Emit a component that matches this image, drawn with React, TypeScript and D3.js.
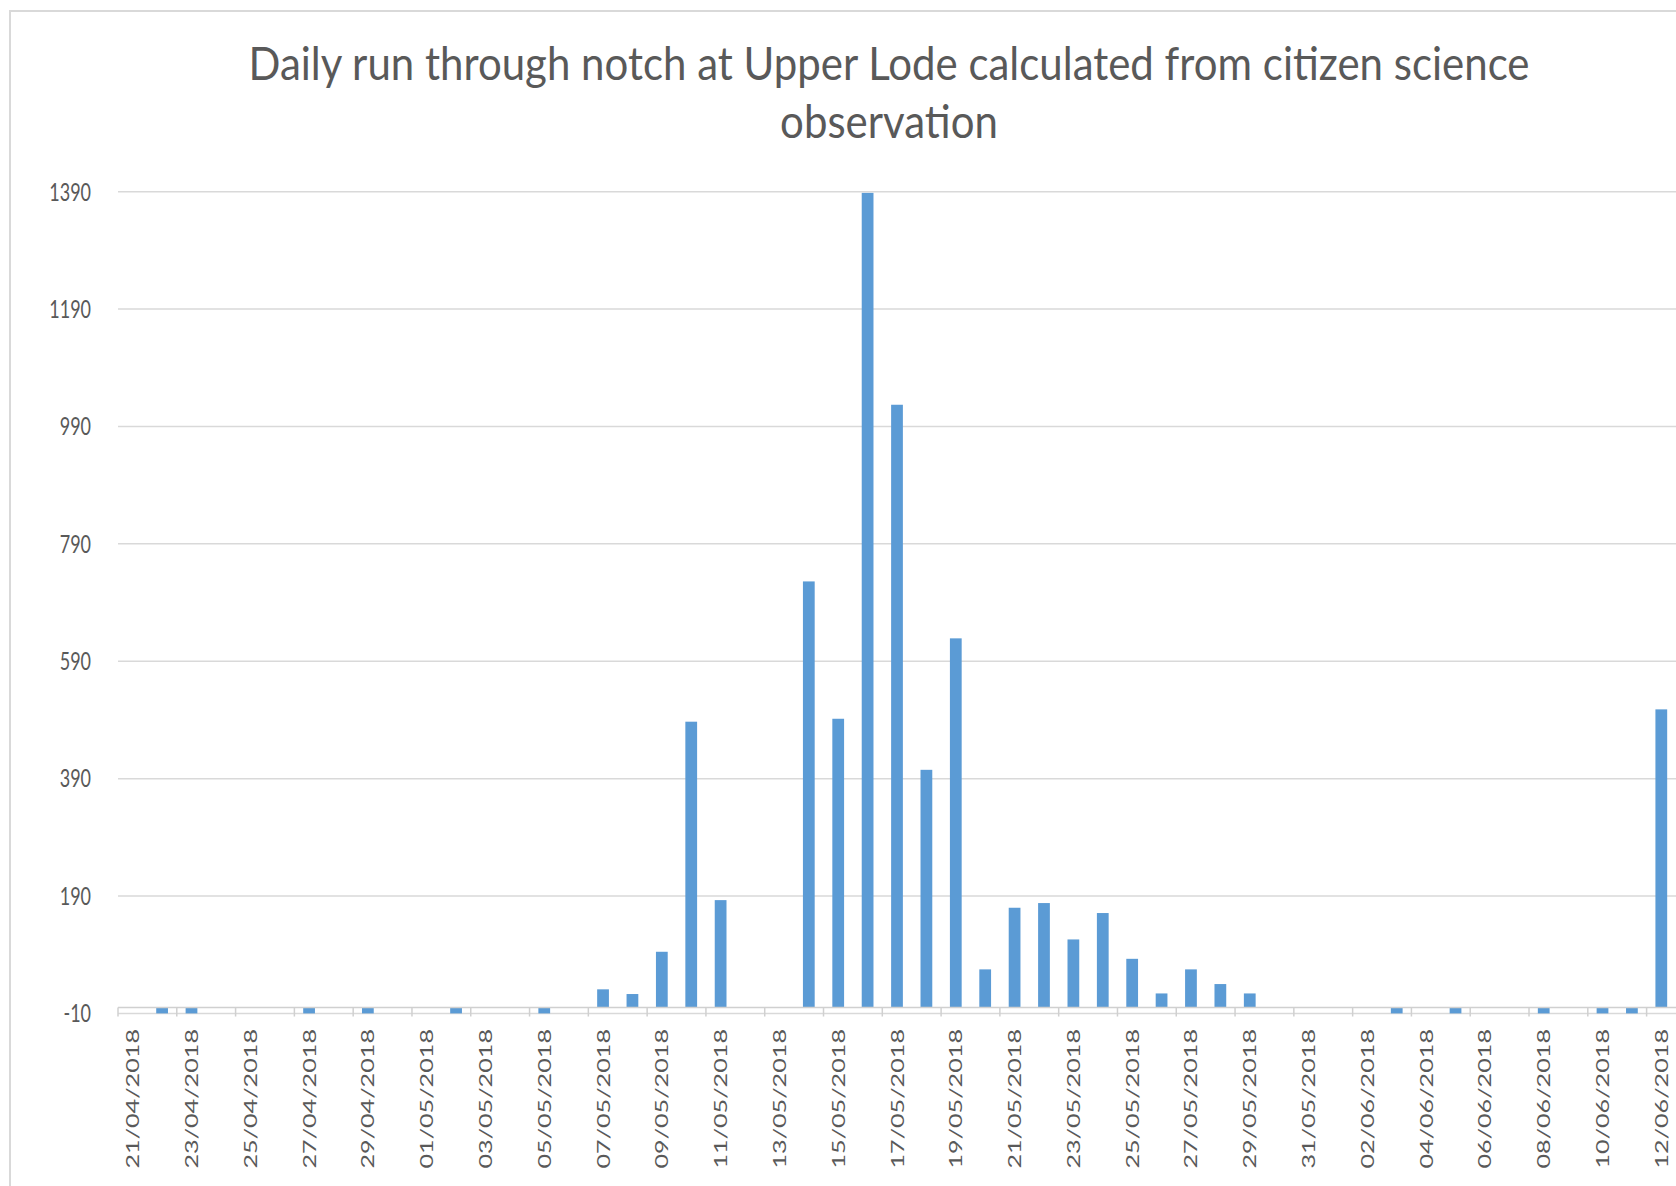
import React from 'react';
import { scaleBand, scaleLinear } from 'd3';

// category labels (one per day)
const dates = [
  '21/04/2018', '22/04/2018', '23/04/2018', '24/04/2018', '25/04/2018', '26/04/2018', '27/04/2018',
  '28/04/2018', '29/04/2018', '30/04/2018', '01/05/2018', '02/05/2018', '03/05/2018', '04/05/2018',
  '05/05/2018', '06/05/2018', '07/05/2018', '08/05/2018', '09/05/2018', '10/05/2018', '11/05/2018',
  '12/05/2018', '13/05/2018', '14/05/2018', '15/05/2018', '16/05/2018', '17/05/2018', '18/05/2018',
  '19/05/2018', '20/05/2018', '21/05/2018', '22/05/2018', '23/05/2018', '24/05/2018', '25/05/2018',
  '26/05/2018', '27/05/2018', '28/05/2018', '29/05/2018', '30/05/2018', '31/05/2018', '01/06/2018',
  '02/06/2018', '03/06/2018', '04/06/2018', '05/06/2018', '06/06/2018', '07/06/2018', '08/06/2018',
  '09/06/2018', '10/06/2018', '11/06/2018', '12/06/2018',
];

// daily run values
const runs = [
  0, -10, -10, 0, 0, 0, -10,
  0, -10, 0, 0, -10, 0, 0,
  -10, 0, 31, 23, 95, 487, 183,
  0, 0, 726, 492, 1388, 1027, 405,
  629, 65, 170, 178, 116, 161, 83,
  24, 65, 40, 24, 0, 0, 0,
  0, -10, 0, -10, 0, 0, -10,
  0, -10, -10, 508,
];

const yTicks = [-10, 190, 390, 590, 790, 990, 1190, 1390];

const title1 = 'Daily run through notch at Upper Lode calculated from citizen science';
const title2 = 'observation';

const W = 1676;
const H = 1186;
const left = 118;
const right = 1676;
const top = 191.7;
const bottom = 1013.4;
const stretch = 1.4; // the picture's small text looks vertically stretched
const titleStretch = 1.12;
const textColor = '#595959';
const font = 'Lato, sans-serif';

export default function App() {
  const x = scaleBand<string>()
    .domain(dates)
    .range([left, right])
    .paddingInner(0.6)
    .paddingOuter(0.3);
  const y = scaleLinear().domain([-10, 1390]).range([bottom, top]);
  const step = x.step();
  const zeroY = y(0);

  return (
    <svg width={W} height={H} style={{ position: 'absolute', left: 0, top: 0, background: '#fff' }}>
      <rect x={0} y={0} width={W} height={H} fill="#fff" />
      <rect x={10} y={11} width={W + 20} height={H + 20} fill="none" stroke="#d9d9d9" strokeWidth={2} />

      <g transform={`translate(889,80) scale(1,${titleStretch})`}>
        <text textAnchor="middle" fontFamily={font} fontSize={42} fill={textColor}>{title1}</text>
      </g>
      <g transform={`translate(889,138) scale(1,${titleStretch})`}>
        <text textAnchor="middle" fontFamily={font} fontSize={42} fill={textColor}>{title2}</text>
      </g>

      {yTicks.map(t => (
        <g key={t}>
          <line x1={left} x2={W} y1={y(t)} y2={y(t)} stroke="#d9d9d9" strokeWidth={1.5} />
          <g transform={`translate(91,${y(t)}) scale(1,${stretch})`}>
            <text textAnchor="end" dy="0.35em" fontFamily={font} fontSize={18} fill={textColor}>{t}</text>
          </g>
        </g>
      ))}

      {dates.map((d, i) => (
        <rect
          key={d}
          x={x(d)}
          y={Math.min(y(runs[i]), zeroY)}
          width={x.bandwidth()}
          height={Math.abs(y(runs[i]) - zeroY)}
          fill="#5b9bd5"
        />
      ))}

      <line x1={left} x2={W} y1={zeroY} y2={zeroY} stroke="#d0d0d0" strokeWidth={1.5} />
      {dates.map((d, i) => i % 2 === 0 ? (
        <line key={'t' + d} x1={left + i * step} x2={left + i * step} y1={zeroY} y2={zeroY + 9} stroke="#d0d0d0" strokeWidth={1.5} />
      ) : null)}

      {dates.map((d, i) => i % 2 === 0 ? (
        <g key={'l' + d} transform={`translate(${(x(d) as number) + x.bandwidth() / 2 + 6.5},1029) scale(1,${stretch})`}>
          <text transform="rotate(-90)" textAnchor="end" fontFamily={font} fontSize={18} fill={textColor}>{d}</text>
        </g>
      ) : null)}
    </svg>
  );
}
